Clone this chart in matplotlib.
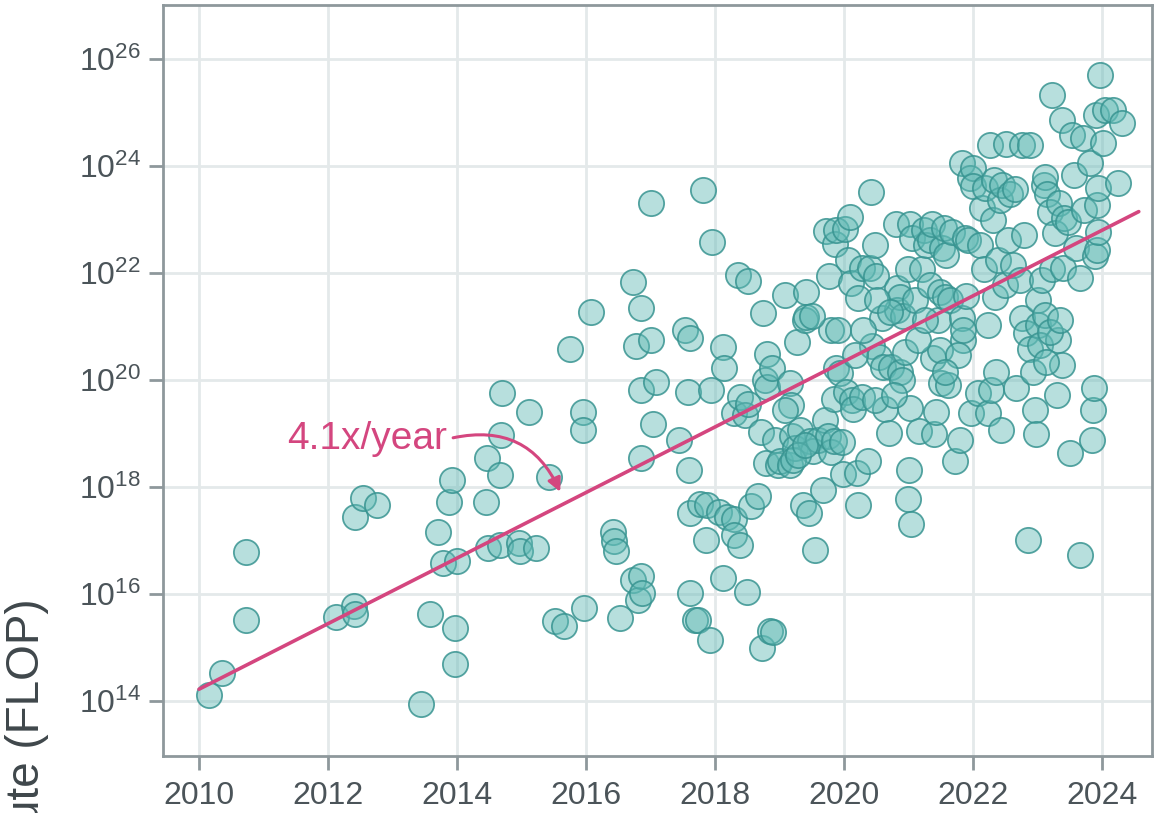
import numpy as np
import matplotlib
matplotlib.use("Agg")
from matplotlib import pyplot as plt
from matplotlib.ticker import FixedLocator, FuncFormatter

plt.rcParams['font.family'] = ['Liberation Sans', 'DejaVu Sans']
plt.rcParams['mathtext.fontset'] = 'custom'
plt.rcParams['mathtext.rm'] = 'Liberation Sans'
plt.rcParams['mathtext.default'] = 'regular'

# publication date (decimal year) and log10 of training compute in FLOP
years = [
    2010.16, 2010.36, 2010.73, 2010.73,
    2012.12, 2012.40, 2012.42, 2012.42, 2012.54, 2012.76,
    2013.44, 2013.58, 2013.71, 2013.78, 2013.88, 2013.92, 2014.00, 2013.97, 2013.97,
    2014.45, 2014.47, 2014.48, 2014.67, 2014.67, 2014.68, 2014.70, 2014.96, 2014.98,
    2015.12, 2015.22, 2015.43, 2015.52, 2015.66, 2015.75, 2015.95, 2015.95, 2015.97,
    2016.08,
    2016.53, 2016.42, 2016.43, 2016.47, 2016.73, 2016.78, 2016.86, 2016.73, 2016.81,
    2016.86, 2016.87, 2016.86, 2016.86, 2017.01, 2017.01, 2017.04, 2017.09, 2017.44,
    2017.53, 2017.60, 2017.58, 2017.61, 2017.61, 2017.61, 2017.69, 2017.74, 2017.77,
    2017.81, 2017.86, 2017.88, 2017.92, 2017.95, 2017.94,
    2018.06, 2018.12, 2018.12, 2018.19, 2018.14, 2018.29, 2018.29, 2018.39, 2018.36,
    2018.29, 2018.39, 2018.47, 2018.50, 2018.51, 2018.51, 2018.56, 2018.67, 2018.73,
    2018.85, 2018.90, 2018.71, 2018.74, 2018.78, 2018.81, 2018.81, 2018.79, 2018.88,
    2018.93, 2018.98, 2019.01, 2019.08, 2019.16, 2019.16, 2019.18, 2019.19, 2019.24,
    2019.27, 2019.32, 2019.36, 2019.40, 2019.41, 2019.41, 2019.46, 2019.47, 2019.52,
    2019.55, 2019.60, 2019.67, 2019.71, 2019.75, 2019.80, 2019.72, 2019.77, 2019.80,
    2019.84, 2019.88, 2019.86, 2019.88, 2019.84, 2019.91, 2019.97, 2019.98, 2019.94,
    2019.50, 2019.21, 2019.29, 2019.40, 2019.08,
    2020.02, 2020.09, 2020.06, 2020.11, 2020.03, 2020.12, 2020.14, 2020.20, 2020.22,
    2020.22, 2020.28, 2020.28, 2020.37, 2020.40, 2020.42, 2020.43, 2020.48, 2020.50,
    2020.54, 2020.59, 2020.60, 2020.64, 2020.70, 2020.73, 2020.81, 2020.82, 2020.82,
    2020.87, 2020.87, 2020.90, 2020.91, 2020.95, 2020.99, 2020.99, 2021.01, 2021.02,
    2021.04, 2021.02, 2021.05, 2021.10, 2021.16, 2021.21, 2021.24, 2021.27, 2021.33,
    2021.33, 2021.36, 2021.38, 2021.39, 2021.43, 2021.46, 2021.49, 2021.49, 2021.50,
    2021.52, 2021.55, 2021.57, 2021.58, 2021.61, 2021.64, 2021.67, 2021.72, 2021.80,
    2021.83, 2021.85, 2021.85, 2021.83, 2021.88, 2021.89, 2021.92, 2021.95, 2021.97,
    2022.00, 2022.00,
    2020.51, 2020.71, 2021.15, 2021.26, 2021.77, 2021.57, 2020.48, 2020.78, 2020.17,
    2020.29,
    2022.08, 2022.11, 2022.14, 2022.17, 2022.19, 2022.23, 2022.23, 2022.26, 2022.28,
    2022.31, 2022.33, 2022.34, 2022.36, 2022.39, 2022.43, 2022.42, 2022.45, 2022.50,
    2022.51, 2022.54, 2022.57, 2022.62, 2022.65, 2022.67, 2022.73, 2022.76, 2022.76,
    2022.79, 2022.82, 2022.85, 2022.88, 2022.88, 2022.93, 2022.96, 2022.98, 2023.01,
    2023.01, 2023.04, 2023.07, 2023.10, 2023.12, 2023.15, 2023.19, 2023.22, 2023.22,
    2023.27, 2023.30, 2023.32, 2023.33, 2023.38, 2023.38, 2023.40, 2023.41, 2023.47,
    2023.50, 2023.53, 2023.57, 2023.60, 2023.66, 2023.66, 2023.71, 2023.72, 2023.81,
    2023.84, 2023.86, 2023.88, 2023.89, 2023.91, 2023.92, 2023.94, 2023.97, 2023.92,
    2024.01, 2024.05, 2024.17, 2024.25, 2024.31, 2023.94,
    2023.12, 2023.19, 2023.13, 2023.35,
]
log_compute = [
    14.11, 14.52, 16.79, 15.51,
    15.57, 15.78, 15.63, 17.44, 17.79, 17.66,
    13.94, 15.63, 17.16, 16.58, 17.72, 18.13, 16.62, 15.36, 14.69,
    17.72, 18.54, 16.86, 16.92, 18.22, 18.97, 19.76, 16.95, 16.80,
    19.40, 16.86, 18.19, 15.50, 15.40, 20.58, 19.40, 19.07, 15.74,
    21.27,
    15.55, 17.16, 16.99, 16.80, 21.83, 20.64, 21.35, 16.26, 15.89,
    16.34, 16.01, 19.81, 18.54, 20.75, 23.31, 19.18, 19.96, 18.88,
    20.93, 18.32, 19.78, 20.78, 17.51, 16.01, 15.51, 15.51, 17.68,
    23.55, 17.01, 17.66, 15.14, 22.58, 19.81,
    17.53, 16.30, 20.62, 17.44, 20.22, 17.40, 17.10, 16.92, 21.96,
    19.38, 19.68, 19.35, 16.04, 19.55, 21.85, 17.64, 17.83, 14.99,
    15.31, 15.29, 19.03, 21.25, 20.00, 20.49, 19.87, 18.45, 20.22,
    18.88, 18.41, 18.49, 21.58, 18.41, 19.94, 19.53, 18.95, 18.73,
    20.72, 19.07, 17.66, 21.12, 21.64, 21.18, 17.51, 18.86, 18.67,
    16.82, 18.88, 17.94, 19.25, 18.95, 18.65, 22.79, 21.94, 20.93,
    18.86, 20.22, 22.54, 22.80, 19.64, 20.93, 18.84, 18.24, 20.13,
    21.20, 18.50, 18.60, 18.79, 19.44,
    22.82, 23.05, 22.24, 21.81, 19.78, 19.63, 19.46, 18.26, 17.66,
    21.53, 22.09, 19.68, 18.49, 22.09, 23.51, 20.64, 22.52, 21.94,
    20.43, 21.16, 20.24, 19.46, 19.01, 20.24, 22.92, 21.72, 21.31,
    21.55, 20.15, 20.00, 21.20, 20.53, 22.07, 17.78, 18.32, 19.48,
    17.31, 22.92, 22.65, 21.50, 19.05, 22.07, 22.80, 22.52, 21.78,
    22.62, 22.92, 20.41, 18.99, 19.40, 21.12, 21.64, 20.56, 19.94,
    22.47, 22.84, 21.55, 22.34, 19.91, 21.50, 22.77, 18.49, 18.88,
    21.16, 20.75, 20.93, 24.06, 22.65, 21.57, 22.62, 23.78, 19.38,
    23.96, 23.63,
    21.50, 21.27, 20.75, 21.12, 20.47, 20.15, 19.63, 19.72, 20.47,
    20.93,
    19.76, 22.52, 23.22, 22.07, 23.59, 21.03, 19.38, 24.39, 19.81,
    22.99, 23.74, 21.55, 20.15, 22.24, 19.07, 23.37, 23.65, 21.78,
    24.41, 22.62, 23.48, 22.15, 23.57, 19.85, 21.87, 24.39, 21.16,
    22.71, 20.88, 17.01, 20.58, 24.39, 20.15, 19.44, 18.99, 21.50,
    21.03, 20.65, 21.87, 23.65, 23.79, 23.48, 23.14, 25.33, 22.07,
    22.75, 19.72, 20.75, 23.31, 24.86, 20.28, 22.09, 23.03, 22.95,
    18.64, 24.58, 23.83, 22.47, 16.73, 21.91, 24.52, 23.18, 24.06,
    18.88, 19.44, 19.85, 22.32, 24.95, 23.27, 23.59, 25.70, 22.43,
    24.43, 25.05, 25.05, 23.68, 24.80, 22.77,
    21.21, 20.90, 20.34, 21.12,
]

# fitted trend: 4.1x per year
growth_per_year = 4.1
trend_start_year = 2010.0
trend_end_year = 2024.57
trend_start_log = 14.22

x_ticks = [2010, 2012, 2014, 2016, 2018, 2020, 2022, 2024]
y_tick_exps = [14, 16, 18, 20, 22, 24, 26]

teal_face = (0.38, 0.73, 0.71, 0.45)
teal_edge = (0.22, 0.58, 0.57, 0.85)
pink = '#D4467F'
tick_color = '#4B5459'
spine_color = '#8E989C'
grid_color = '#E4E9EA'

fig = plt.figure(figsize=(11.54, 8.13), dpi=100)
ax = fig.add_axes([163 / 1154, 1 - 756 / 813, (1152 - 163) / 1154, (756 - 5) / 813])

ax.set_yscale('log')
ax.set_xlim(2009.442, 2024.775)
ax.set_ylim(10 ** 12.972, 10 ** 27.01)

ax.scatter(years, np.power(10.0, log_compute), s=330, facecolor=teal_face,
           edgecolor=teal_edge, linewidth=1.3, zorder=3)

tx = np.array([trend_start_year, trend_end_year])
ty = 10 ** (trend_start_log + np.log10(growth_per_year) * (tx - trend_start_year))
ax.plot(tx, ty, color=pink, lw=2.6, zorder=4, solid_capstyle='round')

ax.text(2013.84, 10 ** 18.90, '4.1x/year', color=pink, fontsize=28,
        ha='right', va='center', zorder=5)
ax.annotate('', xy=(2015.60, 10 ** 17.91), xytext=(2013.94, 10 ** 18.92),
            arrowprops=dict(arrowstyle='-|>', color=pink, lw=2.2,
                            mutation_scale=20, shrinkA=0, shrinkB=0,
                            connectionstyle='arc3,rad=-0.4'),
            zorder=5)

ax.xaxis.set_major_locator(FixedLocator(x_ticks))
ax.yaxis.set_major_locator(FixedLocator([10.0 ** e for e in y_tick_exps]))
ax.yaxis.set_minor_locator(FixedLocator([]))
ax.xaxis.set_major_formatter(FuncFormatter(lambda v, p: f'{int(round(v))}'))
ax.yaxis.set_major_formatter(
    FuncFormatter(lambda v, p: r'$10^{%d}$' % int(round(np.log10(v)))))

ax.grid(True, color=grid_color, lw=2, zorder=0)
ax.set_axisbelow(True)
for side in ['left', 'bottom', 'top', 'right']:
    ax.spines[side].set_color(spine_color)
    ax.spines[side].set_linewidth(2)
ax.tick_params(axis='both', which='major', length=10, width=2,
               color=spine_color, labelcolor=tick_color, labelsize=23)
ax.tick_params(axis='x', pad=8)
ax.tick_params(axis='y', pad=6)

# axis title runs off the lower edge of the canvas
fig.text(27 / 1154, 1 - 598 / 813, 'Training compute (FLOP)', rotation=90,
         ha='center', va='top', fontsize=33, color='#3F474B')

fig.savefig('out.png', dpi=100)
